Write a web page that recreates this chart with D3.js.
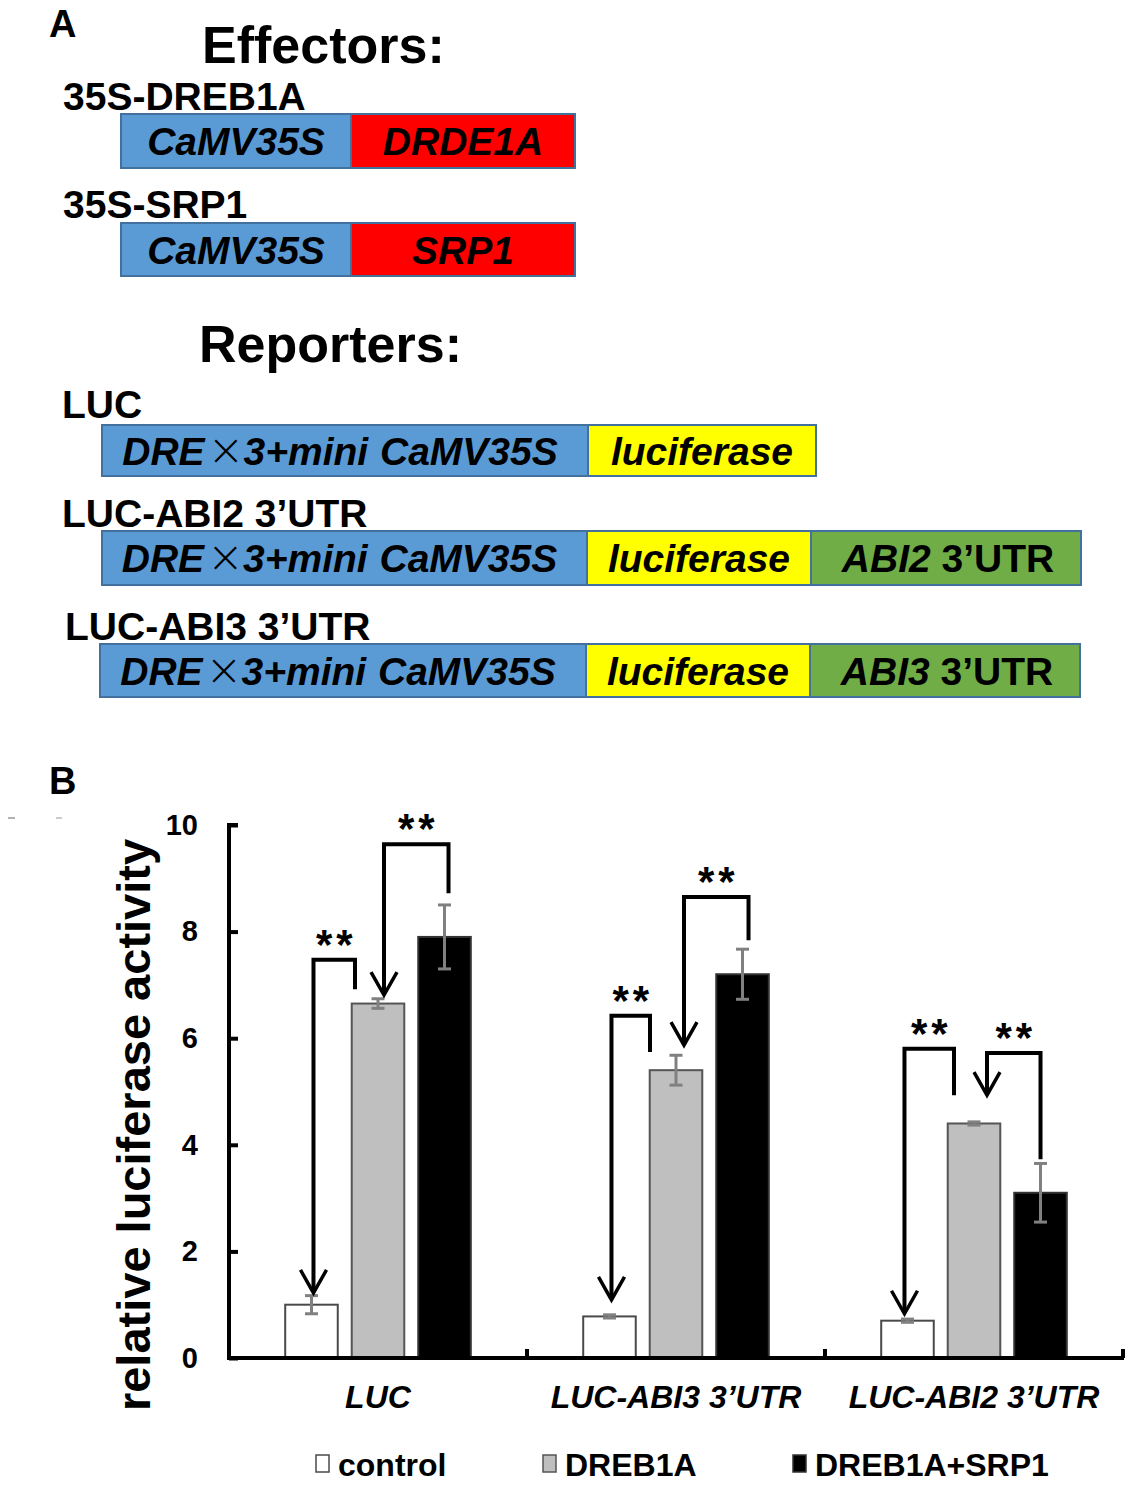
<!DOCTYPE html>
<html>
<head>
<meta charset="utf-8">
<script src="https://cdn.jsdelivr.net/npm/d3@7"></script>
<style>
  html, body { margin: 0; padding: 0; background: #fff; }
  svg { display: block; }
  text { font-family: "Liberation Sans", Arial, sans-serif; font-weight: bold; fill: #000; }
</style>
</head>
<body>
<svg id="fig" width="1136" height="1485"></svg>
<script>
// ---------------- DATA ----------------
// Panel A constructs
const effectorNames = ["35S-DREB1A", "35S-SRP1"];
const effectorPromoter = ["CaMV35S", "CaMV35S"];
const effectorGenes = ["DRDE1A", "SRP1"];
const reporterNames = ["LUC", "LUC-ABI2 3\u2019UTR", "LUC-ABI3 3\u2019UTR"];
const reporterUTRGene = [null, "ABI2", "ABI3"];
const utrSuffix = " 3\u2019UTR";

// Panel B bar chart
const categories = ["LUC", "LUC-ABI3 3\u2019UTR", "LUC-ABI2 3\u2019UTR"];
const series = ["control", "DREB1A", "DREB1A+SRP1"];
const controlValues = [1.00, 0.78, 0.70];
const dreb1aValues = [6.65, 5.40, 4.40];
const comboValues = [7.90, 7.20, 3.10];
const controlErr = [0.17, 0.03, 0.03];
const dreb1aErr = [0.09, 0.28, 0.03];
const comboErr = [0.60, 0.47, 0.55];
const yTicks = [0, 2, 4, 6, 8, 10];
const yLabel = "relative luciferase activity";

// significance comparisons (y levels in data units)
const compGroup = [0, 0, 1, 1, 2, 2];
const compFrom = ["DREB1A", "DREB1A+SRP1", "DREB1A", "DREB1A+SRP1", "DREB1A", "DREB1A+SRP1"];
const compTo = ["control", "DREB1A", "control", "DREB1A", "control", "DREB1A"];
const compTop = [7.47, 9.64, 6.42, 8.65, 5.80, 5.72];
const compFromEnd = [6.92, 8.72, 5.74, 7.84, 4.93, 3.73];
const compTip = [1.22, 6.81, 1.09, 5.87, 0.83, 4.93];
const compLabel = ["**", "**", "**", "**", "**", "**"];

// ---------------- LAYOUT / STYLE ----------------
const svg = d3.select("#fig");
const C = {
  blue: "#5B9BD5", red: "#FF0000", yellow: "#FFFF00", green: "#70AD47", border: "#41719C"
};
const fontA = 39;

function italicText(g, x, y, str, size, anchor) {
  return g.append("text").attr("x", x).attr("y", y).attr("text-anchor", anchor || "middle")
    .attr("font-size", size).attr("font-style", "italic").text(str);
}

// Panel letters
svg.append("text").attr("x", 49).attr("y", 37).attr("font-size", 38).text("A");
svg.append("text").attr("x", 49).attr("y", 794).attr("font-size", 38).text("B");
svg.append("text").attr("x", 202).attr("y", 63).attr("font-size", 52).text("Effectors:");
svg.append("text").attr("x", 199).attr("y", 362).attr("font-size", 52).text("Reporters:");

// Effectors
const effLayout = [
  {label: 110, top: 114, h: 54},
  {label: 218, top: 223, h: 53}
];
const effX = d3.scaleLinear().domain([0, 1, 2]).range([121, 351, 575]);
effectorNames.forEach((name, i) => {
  const L = effLayout[i];
  svg.append("text").attr("x", 63).attr("y", L.label).attr("font-size", fontA).text(name);
  const g = svg.append("g");
  const segs = [{t: effectorPromoter[i], c: C.blue}, {t: effectorGenes[i], c: C.red}];
  segs.forEach((s, j) => {
    g.append("rect").attr("x", effX(j)).attr("y", L.top).attr("width", effX(j + 1) - effX(j))
      .attr("height", L.h).attr("fill", s.c).attr("stroke", C.border).attr("stroke-width", 2);
    italicText(g, (effX(j) + effX(j + 1)) / 2, L.top + L.h / 2 + fontA * 0.36, s.t, fontA);
  });
});

// Reporters
const repLayout = [
  {label: 418, lx: 62, top: 425, h: 51, xs: [102, 588, 816]},
  {label: 527, lx: 62, top: 531, h: 54, xs: [102, 587, 811, 1081]},
  {label: 640, lx: 65, top: 644, h: 53, xs: [100, 586, 810, 1080]}
];
reporterNames.forEach((name, i) => {
  const L = repLayout[i];
  svg.append("text").attr("x", L.lx).attr("y", L.label).attr("font-size", fontA).text(name);
  const colors = [C.blue, C.yellow, C.green];
  const g = svg.append("g");
  for (let j = 0; j < L.xs.length - 1; j++) {
    g.append("rect").attr("x", L.xs[j]).attr("y", L.top).attr("width", L.xs[j + 1] - L.xs[j])
      .attr("height", L.h).attr("fill", colors[j]).attr("stroke", C.border).attr("stroke-width", 2);
  }
  const by = L.top + L.h / 2 + fontA * 0.36;
  // promoter text
  const t = g.append("text").attr("x", (L.xs[0] + L.xs[1]) / 2 - 5).attr("y", by)
    .attr("text-anchor", "middle").attr("font-size", fontA).attr("font-style", "italic");
  t.append("tspan").text("DRE");
  t.append("tspan").attr("font-weight", "300").attr("font-family", "'DejaVu Sans', sans-serif")
    .attr("font-style", "normal").attr("font-size", 44).attr("dx", 3).text("\u00D7");
  t.append("tspan").attr("dx", -1).text("3+mini");
  t.append("tspan").attr("dx", 1).text(" CaMV35S");
  italicText(g, (L.xs[1] + L.xs[2]) / 2, by, "luciferase", fontA);
  if (reporterUTRGene[i]) {
    const u = g.append("text").attr("x", (L.xs[2] + L.xs[3]) / 2 + 2).attr("y", by)
      .attr("text-anchor", "middle").attr("font-size", fontA);
    u.append("tspan").attr("font-style", "italic").text(reporterUTRGene[i]);
    u.append("tspan").text(utrSuffix);
  }
});

// ---------------- PANEL B ----------------
const valuesBySeries = [controlValues, dreb1aValues, comboValues];
const errBySeries = [controlErr, dreb1aErr, comboErr];
const fills = ["#FFFFFF", "#BFBFBF", "#000000"];
const strokes = ["#4a4a4a", "#555555", "#333333"];

const y = d3.scaleLinear().domain([0, 10]).range([1358, 825]);
const xG = d3.scaleBand().domain(categories).range([229, 1123]).padding(0);
const xS = d3.scaleBand().domain(series).range([0, xG.bandwidth()]).paddingInner(0.21).paddingOuter(0.845);

const data = [];
categories.forEach((c, gi) => series.forEach((s, si) => {
  data.push({cat: c, gi, ser: s, si, v: valuesBySeries[si][gi], e: errBySeries[si][gi]});
}));

const chart = svg.append("g");

// bars
chart.selectAll("rect.bar").data(data).enter().append("rect").attr("class", "bar")
  .attr("x", d => xG(d.cat) + xS(d.ser))
  .attr("y", d => y(d.v))
  .attr("width", xS.bandwidth())
  .attr("height", d => y(0) - y(d.v))
  .attr("fill", d => fills[d.si])
  .attr("stroke", d => strokes[d.si])
  .attr("stroke-width", 2);

// error bars
const eb = chart.selectAll("g.err").data(data).enter().append("g").attr("class", "err")
  .attr("stroke", "#808080").attr("stroke-width", 3);
const cx = d => xG(d.cat) + xS(d.ser) + xS.bandwidth() / 2;
eb.append("line").attr("x1", cx).attr("x2", cx).attr("y1", d => y(d.v + d.e)).attr("y2", d => y(d.v - d.e));
eb.append("line").attr("x1", d => cx(d) - 6.5).attr("x2", d => cx(d) + 6.5).attr("y1", d => y(d.v + d.e)).attr("y2", d => y(d.v + d.e));
eb.append("line").attr("x1", d => cx(d) - 6.5).attr("x2", d => cx(d) + 6.5).attr("y1", d => y(d.v - d.e)).attr("y2", d => y(d.v - d.e));

// y axis (ticks point inward)
const yAxis = d3.axisLeft(y).tickValues(yTicks).tickSize(-9).tickPadding(31).tickFormat(d3.format("d"));
const ya = chart.append("g").attr("transform", "translate(229,0)").call(yAxis);
ya.select(".domain").attr("stroke", "#000").attr("stroke-width", 4).attr("d", `M9,${y(10)}H0V${y(0)}`);
ya.selectAll(".tick line").attr("stroke", "#000").attr("stroke-width", 4);
ya.selectAll(".tick text").attr("font-size", 29).attr("font-family", "'Liberation Sans', Arial, sans-serif")
  .attr("font-weight", "bold").attr("fill", "#000");

// x axis
const xa = chart.append("g");
xa.append("line").attr("x1", 227).attr("x2", xG.range()[1] + 1).attr("y1", y(0)).attr("y2", y(0))
  .attr("stroke", "#000").attr("stroke-width", 4);
categories.forEach(c => {
  const bx = xG(c) + xG.bandwidth();
  xa.append("line").attr("x1", bx).attr("x2", bx).attr("y1", y(0)).attr("y2", y(0) - 9)
    .attr("stroke", "#000").attr("stroke-width", 4);
  italicText(xa, xG(c) + xG.bandwidth() / 2, 1408, c, 32);
});

// y label
svg.append("text").attr("transform", "translate(150,1125) rotate(-90)").attr("text-anchor", "middle")
  .attr("font-size", 47).text(yLabel);

// artefact dashes near B
svg.append("line").attr("x1", 8).attr("x2", 15).attr("y1", 818).attr("y2", 818).attr("stroke", "#999").attr("stroke-width", 1.5);
svg.append("line").attr("x1", 56).attr("x2", 62).attr("y1", 818).attr("y2", 818).attr("stroke", "#bbb").attr("stroke-width", 1.5);

// significance brackets
const bracketDx = [[-23, 2], [4, 6], [-26, 2], [6, 8], [-20, -3], [0, 13]];
const sig = chart.append("g").attr("fill", "none").attr("stroke", "#000").attr("stroke-width", 4);
compGroup.forEach((gi, k) => {
  const cat = categories[gi];
  const fx = xG(cat) + xS(compFrom[k]) + xS.bandwidth() / 2 + bracketDx[k][0];
  const tx = xG(cat) + xS(compTo[k]) + xS.bandwidth() / 2 + bracketDx[k][1];
  const yt = y(compTop[k]), yf = y(compFromEnd[k]), yp = y(compTip[k]);
  sig.append("path").attr("d", `M${fx},${yf}V${yt}H${tx}V${yp - 1}`).attr("stroke-linejoin", "miter");
  sig.append("path").attr("d", `M${tx - 13},${yp - 23}L${tx},${yp}L${tx + 13},${yp - 23}`)
    .attr("stroke-width", 3.5).attr("stroke-linejoin", "miter");
  chart.append("text").attr("x", (fx + tx) / 2 + 2).attr("y", yt - 1).attr("text-anchor", "middle")
    .attr("font-size", 42).attr("font-weight", "normal").attr("letter-spacing", 4).text(compLabel[k]);
});

// legend
const legendX = [316, 543, 793];
const lg = svg.append("g");
series.forEach((s, i) => {
  lg.append("rect").attr("x", legendX[i]).attr("y", 1455).attr("width", 13).attr("height", 17)
    .attr("fill", fills[i]).attr("stroke", strokes[i]).attr("stroke-width", 1.5);
  lg.append("text").attr("x", legendX[i] + 22).attr("y", 1476).attr("font-size", 32).text(s);
});
</script>
</body>
</html>
